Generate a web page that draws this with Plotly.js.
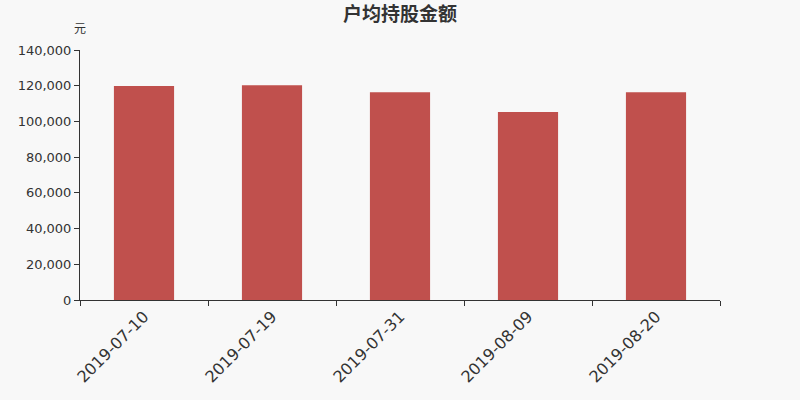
<!DOCTYPE html>
<html>
<head>
<meta charset="utf-8">
<script src="https://cdn.plot.ly/plotly-3.0.1.min.js"></script>
<style>html,body{margin:0;padding:0;background:#f8f8f8;}#chart{width:800px;height:400px;}</style>
</head>
<body>
<div id="chart"></div>
<script>
var categories = ["2019-07-10", "2019-07-19", "2019-07-31", "2019-08-09", "2019-08-20"];
var values = [119800, 120300, 116400, 105300, 116300];
var yTickValues = [0, 20000, 40000, 60000, 80000, 100000, 120000, 140000];

var trace = {
  type: "bar",
  x: categories,
  y: values,
  marker: {color: "#c0504d"},
  hoverinfo: "x+y"
};

var layout = {
  width: 800,
  height: 400,
  paper_bgcolor: "#f8f8f8",
  plot_bgcolor: "#f8f8f8",
  margin: {l: 80, r: 80, t: 50, b: 100},
  bargap: 0.53,
  showlegend: false,
  font: {family: "DejaVu Sans, Noto Sans CJK SC", color: "#333333"},
  title: {
    text: "<b>户均持股金额</b>",
    font: {family: "Noto Sans CJK SC, DejaVu Sans", size: 19, color: "#333333"},
    x: 0.5, xanchor: "center",
    y: 0.965, yanchor: "middle"
  },
  xaxis: {
    type: "category",
    showline: true,
    linecolor: "#333333",
    linewidth: 1,
    ticks: "outside",
    tickson: "boundaries",
    ticklen: 5,
    tickcolor: "#333333",
    tickangle: -45,
    tickfont: {size: 16, color: "#333333"},
    showgrid: false,
    zeroline: false
  },
  yaxis: {
    range: [0, 140000],
    tickvals: yTickValues,
    tickformat: ",",
    showline: true,
    linecolor: "#333333",
    linewidth: 1,
    ticks: "outside",
    ticklen: 5,
    tickcolor: "#333333",
    tickfont: {size: 13, color: "#333333"},
    showgrid: false,
    zeroline: false
  },
  annotations: [{
    text: "元",
    xref: "paper", yref: "paper",
    x: 0, y: 1,
    xanchor: "center", yanchor: "bottom",
    yshift: 12,
    showarrow: false,
    font: {family: "Noto Sans CJK SC", size: 12, color: "#333333"}
  }]
};

Plotly.newPlot("chart", [trace], layout, {displayModeBar: false, staticPlot: true});
</script>
</body>
</html>
